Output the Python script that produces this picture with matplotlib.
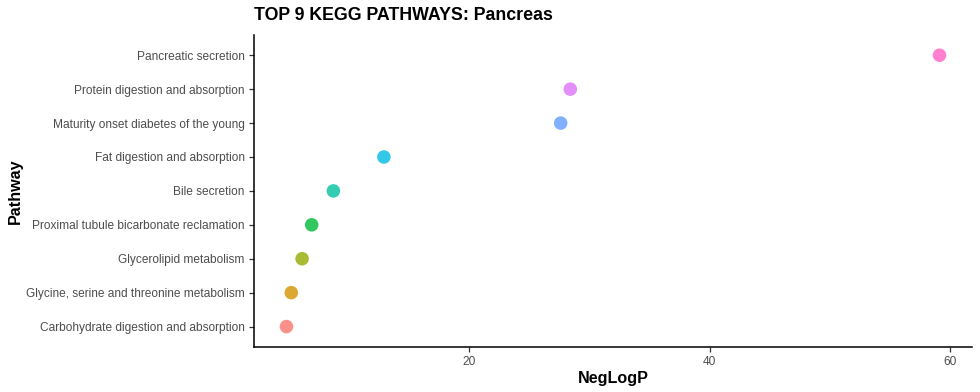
import matplotlib
matplotlib.use("Agg")
import matplotlib.pyplot as plt

# pathways, bottom to top
pathways = [
    "Carbohydrate digestion and absorption",
    "Glycine, serine and threonine metabolism",
    "Glycerolipid metabolism",
    "Proximal tubule bicarbonate reclamation",
    "Bile secretion",
    "Fat digestion and absorption",
    "Maturity onset diabetes of the young",
    "Protein digestion and absorption",
    "Pancreatic secretion",
]
neglogp = [4.8, 5.2, 6.1, 6.9, 8.7, 12.9, 27.6, 28.4, 59.1]
colors = ["#F8766D", "#D39200", "#93AA00", "#00BA38", "#00C19F",
          "#00B9E3", "#619CFF", "#DB72FB", "#FF61C3"]
xticks = [20, 40, 60]

plt.rcParams['font.family'] = ['Liberation Sans', 'DejaVu Sans']

fig = plt.figure(figsize=(9.8, 3.92), dpi=100)
ax = fig.add_axes([0.259, 0.115, 0.733, 0.796])

ypos = list(range(1, len(pathways) + 1))
ax.scatter(neglogp, ypos, c=colors, s=95, alpha=0.8, edgecolors='none', zorder=3)

# ggplot style expansion
lo, hi = min(neglogp), max(neglogp)
pad = 0.05 * (hi - lo)
ax.set_xlim(lo - pad, hi + pad)
ax.set_ylim(0.4, len(pathways) + 0.6)

ax.set_yticks(ypos)
ax.set_yticklabels(pathways)
ax.set_xticks(xticks)

for side in ['top', 'right']:
    ax.spines[side].set_visible(False)
for side in ['left', 'bottom']:
    ax.spines[side].set_linewidth(1.1)
    ax.spines[side].set_color('black')

ax.tick_params(axis='both', colors='#333333', labelcolor='#4D4D4D',
               labelsize=8.6, length=3.5, width=0.9, pad=3)

ax.set_xlabel("NegLogP", fontsize=11.6, fontweight='bold', labelpad=2)
ax.set_ylabel("Pathway", fontsize=11.6, fontweight='bold', labelpad=2)
ax.set_title("TOP 9 KEGG PATHWAYS: Pancreas", loc='left', fontsize=12.8,
             fontweight='bold', pad=10.5)

fig.savefig("out.png", dpi=100)
